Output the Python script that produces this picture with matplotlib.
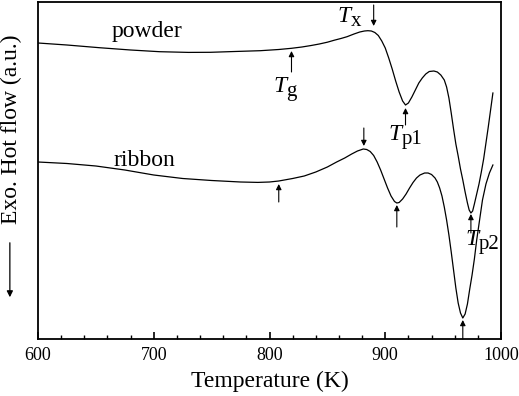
import matplotlib
matplotlib.use("Agg")
import matplotlib.pyplot as plt
from matplotlib.ticker import MultipleLocator

plt.rcParams['font.family'] = ['Liberation Serif', 'DejaVu Serif']

# Powder DSC trace (temperature K, heat flow a.u.)
powder_T = [600, 625, 653, 680, 705, 730, 749, 770, 792, 808, 819, 828, 836, 843,
            850, 856, 862, 867, 873, 878, 882, 885, 888, 891, 894, 897, 900, 903,
            906, 909, 912, 915, 917.5, 920, 923, 926, 929, 932, 935, 938, 942, 945,
            948, 951, 953, 955, 957, 959, 961, 963, 965, 967, 969, 971, 972.5, 974,
            975.5, 977, 979, 981, 983, 985, 987, 989, 991, 993]
powder_hf = [296, 294, 291.3, 289, 287.3, 286.6, 286.7, 287.5, 288.3, 289.5, 290.7,
             292, 293.5, 295, 296.8, 298.8, 300.6, 302.3, 305, 307, 308, 308.3,
             308, 306.5, 303.5, 298, 291, 281, 270, 258, 247, 238, 234, 236, 242,
             249, 256, 261, 265, 267.5, 268, 267, 264, 259, 252, 241, 226, 210, 195,
             183, 170, 159, 147, 136, 129, 126, 128, 135, 145, 155, 167, 180, 196,
             212, 229, 246]

# Ribbon DSC trace
ribbon_T = [600, 625, 650, 675, 700, 725, 750, 775, 790, 800, 808, 820, 830, 840,
            850, 858, 865, 871, 876, 881, 884, 887, 890, 893, 896, 899, 902, 905,
            908, 910, 912, 915, 918, 921, 924, 927, 930, 934, 937, 940, 943, 945,
            947, 949, 951, 953, 955, 957, 959, 961, 963, 965, 967, 969, 971, 973,
            975, 977, 979, 981, 984, 987, 990, 993]
ribbon_hf = [177, 175.5, 173, 169, 164, 160.5, 158.5, 157, 156.6, 157, 158, 160.5,
             163, 167, 172, 177, 181, 185, 188, 190, 189.5, 187.5, 183.5, 177, 169,
             160, 151, 143, 137.5, 136, 136.5, 140, 145, 151, 156.5, 161, 164, 166,
             166, 164.5, 161, 157, 151, 143, 132, 119, 104, 87, 69, 51, 36, 26, 21,
             25, 35, 50, 64, 80, 99, 115, 139, 155, 166, 174]

# Characteristic temperatures (K)
powder_Tg, powder_Tx, powder_Tp1, powder_Tp2 = 819, 890, 917.5, 974
ribbon_Tg, ribbon_Tx, ribbon_Tp1, ribbon_Tp2 = 808, 881.5, 910, 967

fig = plt.figure(figsize=(5.19, 3.96), dpi=100)
ax = fig.add_axes([38/519, 57/396, 463/519, 337/396])
ax.plot(powder_T, powder_hf, color='black', lw=0.9)
ax.plot(ribbon_T, ribbon_hf, color='black', lw=0.9)
ax.set_xlim(600, 1000)
ax.set_ylim(0, 337)
ax.set_yticks([])
ax.xaxis.set_major_locator(MultipleLocator(100))
ax.xaxis.set_minor_locator(MultipleLocator(20))
ax.tick_params(axis='x', which='major', direction='in', length=5, width=1.2,
               labelsize=13, pad=6, top=False)
ax.tick_params(axis='x', which='minor', direction='in', length=3, width=1.0, top=False)
for s in ax.spines.values():
    s.set_linewidth(1.3)
ax.set_xlabel('Temperature (K)', fontsize=17, labelpad=5)

ap = dict(arrowstyle='-|>', color='black', lw=0.8, mutation_scale=8, shrinkA=0, shrinkB=0)
def arrow(x, y0, y1):
    ax.annotate('', xy=(x, y1), xytext=(x, y0), arrowprops=ap)

# powder arrows
arrow(powder_Tx, 334, 313)
arrow(powder_Tg, 267, 288)
arrow(powder_Tp1, 214, 231)
arrow(powder_Tp2, 106, 125)
# ribbon arrows
arrow(ribbon_Tx, 211, 193)
arrow(ribbon_Tg, 137, 155)
arrow(ribbon_Tp1, 112, 134)
arrow(ribbon_Tp2, 0, 19)

ax.text(694, 307, 'powder', fontsize=17, ha='center', va='center')
ax.text(692, 179, 'ribbon', fontsize=17, ha='center', va='center')

def tlabel(x, y, sub):
    ax.text(x, y, 'T', fontsize=17, style='italic', ha='left', va='baseline')
    ax.annotate(sub, xy=(x, y), xytext=(9.5, -3), textcoords='offset points',
                fontsize=15, ha='left', va='baseline')

tlabel(859, 317, 'x')
tlabel(803, 247, 'g')
tlabel(903, 199, 'p1')
tlabel(969, 94, 'p2')

fig.text(0.023, 0.674, 'Exo. Hot flow (a.u.)', rotation=90, fontsize=17,
         ha='center', va='center')
fig.add_artist(matplotlib.patches.FancyArrowPatch(
    (0.019, 1 - 240/396), (0.019, 1 - 300/396), transform=fig.transFigure,
    arrowstyle='-|>', mutation_scale=9, lw=0.9, color='black'))

fig.savefig('out.png', dpi=100)
